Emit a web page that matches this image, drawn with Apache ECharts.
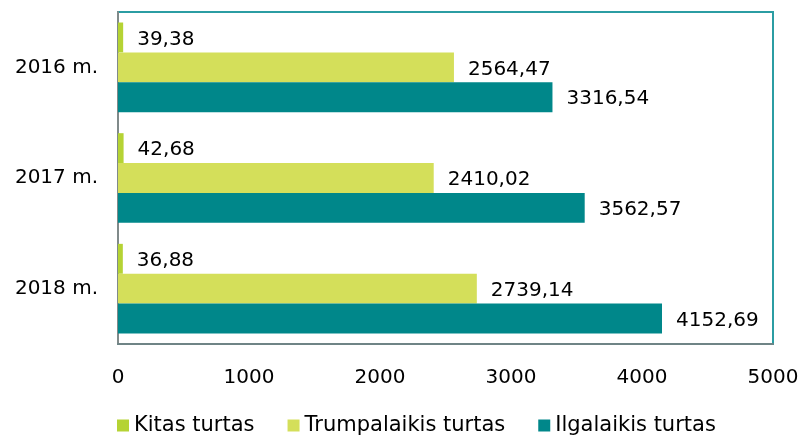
<!DOCTYPE html>
<html>
<head>
<meta charset="utf-8">
<script src="https://cdn.jsdelivr.net/npm/echarts@6/dist/echarts.min.js"></script>
<style>
html,body{margin:0;padding:0;background:#fff;}
#chart{width:801px;height:435px;}
</style>
</head>
<body>
<div id="chart"></div>
<script>
var years=['2016 m.','2017 m.','2018 m.'];
var kitas=[39.38,42.68,36.88];
var trumpalaikis=[2564.47,2410.02,2739.14];
var ilgalaikis=[3316.54,3562.57,4152.69];
var xTicks=[0,1000,2000,3000,4000,5000];

var font='DejaVu Sans';
function lt(v){return v.toFixed(2).replace('.',',');}//lithuanian decimal comma

function barSeries(name,data,color){
	return {
		name:name,type:'bar',data:data,
		barGap:'0%',barCategoryGap:'19%',
		itemStyle:{color:color},
		label:{show:true,position:'right',distance:14,offset:[0,2],color:'#000',
			fontFamily:font,fontSize:20,
			formatter:function(p){return lt(p.value);}}
	};
}

var chart=echarts.init(document.getElementById('chart'));
chart.setOption({
	animation:false,
	grid:{left:118,right:28,top:12,bottom:91,containLabel:false,outerBoundsMode:'none',
		show:true,borderColor:'#2b9da3',borderWidth:2},
	legend:{left:112,top:410,itemWidth:12,itemHeight:12,itemGap:33,icon:'rect',
		textStyle:{fontFamily:font,fontSize:21,color:'#000'},
		data:['Kitas turtas','Trumpalaikis turtas','Ilgalaikis turtas']},
	xAxis:{type:'value',min:xTicks[0],max:xTicks[xTicks.length-1],interval:1000,
		splitLine:{show:false},axisTick:{show:false},
		axisLine:{show:true,lineStyle:{color:'#6f8486',width:2}},
		axisLabel:{color:'#000',fontFamily:font,fontSize:20,margin:24,
			formatter:function(v){return String(v);}}},
	yAxis:{type:'category',data:years,inverse:true,
		axisTick:{show:false},
		axisLine:{show:true,lineStyle:{color:'#808a8a',width:2}},
		axisLabel:{color:'#000',fontFamily:font,fontSize:20,margin:20}},
	series:[
		barSeries('Kitas turtas',kitas,'#b5d334'),
		barSeries('Trumpalaikis turtas',trumpalaikis,'#d4df5a'),
		barSeries('Ilgalaikis turtas',ilgalaikis,'#00878a')
	]
});
</script>
</body>
</html>
